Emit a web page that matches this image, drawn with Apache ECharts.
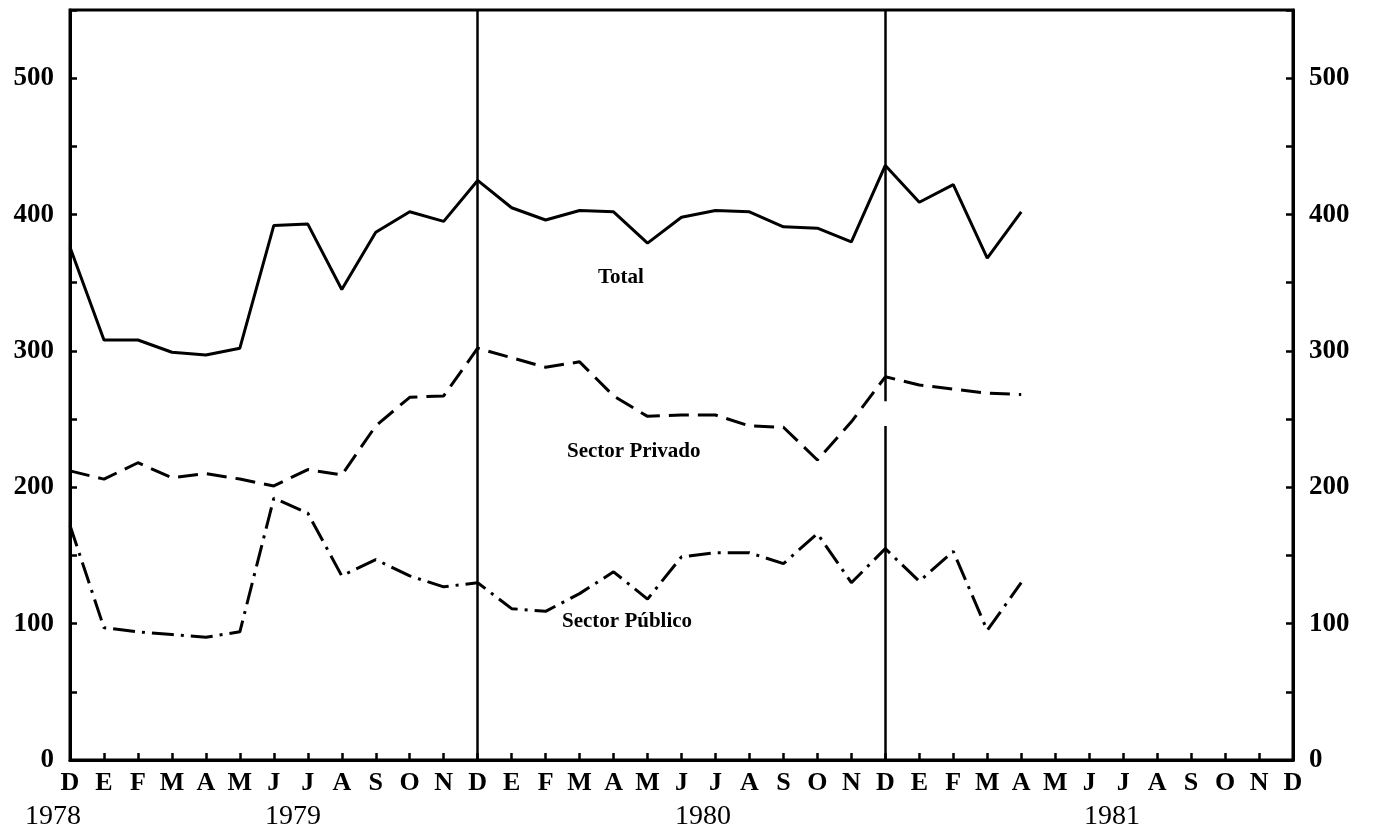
<!DOCTYPE html>
<html lang="es">
<head>
    <meta charset="UTF-8">
    <title>Sector Privado / Sector Público</title>
    <script src="https://cdn.jsdelivr.net/npm/echarts@6/dist/echarts.min.js"></script>
    <style>
        html, body { margin: 0; padding: 0; background: #fff; }
        #main { width: 1374px; height: 834px; }
    </style>
</head>
<body>
    <div id="main"></div>
    <script>
        // meses dic 1978 .. dic 1981
        const months = ['D','E','F','M','A','M','J','J','A','S','O','N',
                        'D','E','F','M','A','M','J','J','A','S','O','N',
                        'D','E','F','M','A','M','J','J','A','S','O','N','D']
        const years = ['1978', '1979', '1980', '1981']

        const total = [376, 308, 308, 299, 297, 302, 392, 393, 345, 387, 402, 395,
                       425, 405, 396, 403, 402, 379, 398, 403, 402, 391, 390, 380,
                       436, 409, 422, 368, 402]
        const privado = [212, 206, 218, 207, 210, 206, 201, 213, 209, 245, 266, 267,
                         302, 295, 288, 292, 267, 252, 253, 253, 245, 244, 220, 248,
                         281, 275, 272, 269, 268]
        const publico = [172, 97, 94, 92, 90, 94, 192, 181, 135, 147, 135, 127,
                         130, 111, 109, 122, 138, 118, 149, 152, 152, 144, 166, 130,
                         155, 131, 153, 95, 130]

        const serif = '"Liberation Serif", "DejaVu Serif", serif'
        const black = '#000'

        const chart = echarts.init(document.getElementById('main'))

        function yAxisCfg (pos) {
            return {
                type: 'value',
                position: pos,
                min: 0,
                max: 550,
                interval: 50,
                splitLine: { show: false },
                axisLine: { show: true, lineStyle: { color: black, width: 3 } },
                axisTick: { show: true, inside: true, length: 7, lineStyle: { color: black, width: 2.5 } },
                axisLabel: {
                    margin: 16,
                    color: black,
                    fontFamily: serif,
                    fontWeight: 'bold',
                    fontSize: 27,
                    formatter: v => (v % 100 === 0 ? String(v) : '')
                }
            }
        }

        const option = {
            animation: false,
            backgroundColor: '#fff',
            grid: {
                left: 70, right: 81, top: 10, bottom: 74,
                show: true, borderColor: black, borderWidth: 3
            },
            xAxis: {
                type: 'category',
                data: months,
                boundaryGap: false,
                axisLine: { lineStyle: { color: black, width: 3 } },
                axisTick: { inside: true, length: 7, interval: 0, lineStyle: { color: black, width: 2.5 } },
                axisLabel: {
                    interval: 0,
                    margin: 10,
                    color: black,
                    fontFamily: serif,
                    fontWeight: 'bold',
                    fontSize: 26
                },
                splitLine: { show: false }
            },
            yAxis: [yAxisCfg('left'), yAxisCfg('right')],
            series: [
                {
                    name: 'Total',
                    type: 'line',
                    data: total,
                    symbol: 'none',
                    lineStyle: { color: black, width: 3 },
                    markLine: {
                        silent: true,
                        symbol: 'none',
                        label: { show: false },
                        lineStyle: { color: black, width: 2.5, type: 'solid' },
                        data: [
                            [{ xAxis: 12, yAxis: 0 }, { xAxis: 12, yAxis: 550 }],
                            [{ xAxis: 24, yAxis: 0 }, { xAxis: 24, yAxis: 245 }],
                            [{ xAxis: 24, yAxis: 263 }, { xAxis: 24, yAxis: 550 }]
                        ]
                    }
                },
                {
                    name: 'Sector Privado',
                    type: 'line',
                    data: privado,
                    symbol: 'none',
                    lineStyle: { color: black, width: 3, type: [20, 9] }
                },
                {
                    name: 'Sector Público',
                    type: 'line',
                    data: publico,
                    symbol: 'none',
                    lineStyle: { color: black, width: 3, type: [22, 7, 3, 7] }
                }
            ],
            graphic: [
                { type: 'text', left: 598, top: 267, style: { text: 'Total', font: 'bold 21px ' + serif, fill: black } },
                { type: 'text', left: 567, top: 441, style: { text: 'Sector Privado', font: 'bold 21px ' + serif, fill: black } },
                { type: 'text', left: 562, top: 611, style: { text: 'Sector Público', font: 'bold 21px ' + serif, fill: black } },
                { type: 'text', left: 25, top: 803, style: { text: years[0], font: '28px ' + serif, fill: black } },
                { type: 'text', left: 265, top: 803, style: { text: years[1], font: '28px ' + serif, fill: black } },
                { type: 'text', left: 675, top: 803, style: { text: years[2], font: '28px ' + serif, fill: black } },
                { type: 'text', left: 1084, top: 803, style: { text: years[3], font: '28px ' + serif, fill: black } }
            ]
        }

        chart.setOption(option)
    </script>
</body>
</html>
